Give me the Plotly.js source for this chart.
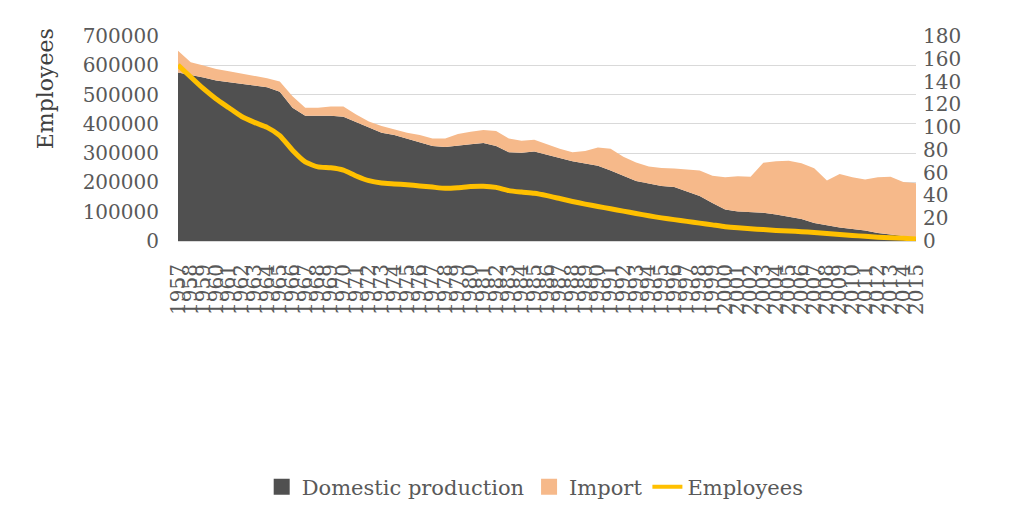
<!DOCTYPE html>
<html>
<head>
<meta charset="utf-8">
<script src="https://cdn.plot.ly/plotly-3.0.1.min.js"></script>
<style>html,body{margin:0;padding:0;background:#fff;}#chart{width:1019px;height:519px;}</style>
</head>
<body>
<div id="chart"></div>
<script>
const years = [];
for (let y = 1957; y <= 2015; y++) years.push(y);

const domestic = [148,146,143.5,141,139.5,138,136,135,131,117,110,110,110,109,104.5,99.5,95,93,90,87,83.5,82.5,84,85,86,83.5,78,77.5,78.5,75.5,72.6,70,68,66,62,57,52.7,50.5,48.3,47.4,43.5,39.5,33.4,27.7,25.9,25.5,24.8,23.3,21.5,19.3,15.8,13.6,11.9,10.5,9.2,7,5.7,4.8,3];
const imports = [19,11,10.5,10,9.5,9,9,8,9,10,7,7,8,9,6.5,5.5,6,5,5,6,6.5,7.5,10,11,11.5,13,12,10.5,10.5,9.5,8.4,8,11,16,19,17,16.3,15,15.7,16.3,19.5,22.5,24,28.3,31,31,44,46.7,49,49,48,39.5,47,45.5,44.8,49,50.8,47,47.7];
const employees = [601000,560000,520000,485000,455000,425000,405000,388000,360000,310000,270000,253000,250000,242000,222000,206000,198000,195000,192000,188000,184000,180000,182000,186000,187000,183000,172000,167000,163000,155000,145000,135000,126000,118000,110000,102000,94000,86000,79000,73000,67000,61000,55000,49000,45000,42000,39000,36000,34000,32000,29000,26000,22000,19000,16000,13000,11000,9000,7000];
const yearLabels = years.map(String);
const leftTicks = [0,100000,200000,300000,400000,500000,600000,700000];
const rightTicks = [0,20,40,60,80,100,120,140,160,180];

const FONT = "DejaVu Serif";
const GREY = "#595959";
const C_DOM = "#505050", C_IMP = "#F6B98A", C_EMP = "#FFC000";

const traces = [
  {x: years, y: domestic, name: "Domestic production", type: "scatter", mode: "lines", showlegend: false,
   stackgroup: "a", fillcolor: C_DOM, line: {width: 0, color: C_DOM}, yaxis: "y"},
  {x: years, y: imports, name: "Import", type: "scatter", mode: "lines", showlegend: false,
   stackgroup: "a", fillcolor: C_IMP, line: {width: 0, color: C_IMP}, yaxis: "y"},
  {x: years, y: employees, name: "Employees", type: "scatter", mode: "lines", showlegend: false,
   line: {width: 5, color: C_EMP, shape: "spline", smoothing: 0.5}, yaxis: "y2"},
  // legend entries
  {x: [null], y: [null], name: "Domestic production", type: "scatter", mode: "markers",
   marker: {symbol: "square", size: 18, color: C_DOM}, yaxis: "y"},
  {x: [null], y: [null], name: "Import", type: "scatter", mode: "markers",
   marker: {symbol: "square", size: 18, color: C_IMP}, yaxis: "y"},
  {x: [null], y: [null], name: "Employees", type: "scatter", mode: "lines",
   line: {width: 4, color: C_EMP}, yaxis: "y2"}
];

const layout = {
  width: 1019, height: 519,
  paper_bgcolor: "#ffffff", plot_bgcolor: "#ffffff",
  margin: {l: 178, r: 103, t: 36, b: 278},
  font: {family: FONT, color: GREY, size: 20},
  showlegend: true,
  legend: {orientation: "h", x: 0.484, xanchor: "center", y: -1.2, yanchor: "middle",
    font: {family: FONT, size: 21, color: GREY}, itemwidth: 30, traceorder: "normal"},
  xaxis: {type: "linear", range: [1957, 2015], tickmode: "array", tickvals: years, ticktext: yearLabels,
    tickangle: -90, tickfont: {family: FONT, size: 20, color: GREY}, showgrid: false,
    showline: true, linecolor: "#d9d9d9", linewidth: 1, ticks: "", zeroline: false,
    ticklabelstandoff: 14},
  yaxis: {range: [0, 180], side: "right", tickmode: "array", tickvals: rightTicks,
    showgrid: false, zeroline: false, showline: false, ticks: "",
    tickfont: {family: FONT, size: 20, color: GREY}, ticklabelstandoff: 6},
  yaxis2: {range: [0, 700000], overlaying: "y", side: "left", tickmode: "array", tickvals: leftTicks,
    ticktext: leftTicks.map(String),
    showgrid: true, gridcolor: "#d9d9d9", gridwidth: 1, zeroline: false, showline: false, ticks: "",
    tickfont: {family: FONT, size: 20, color: GREY}, ticklabelstandoff: 18},
  annotations: [
    {text: "Employees", xref: "paper", yref: "paper", x: -0.18, y: 0.741, textangle: -90,
     showarrow: false, xanchor: "center", yanchor: "middle",
     font: {family: FONT, size: 22, color: "#404040"}}
  ]
};

Plotly.newPlot("chart", traces, layout, {displayModeBar: false, staticPlot: true});
</script>
</body>
</html>
